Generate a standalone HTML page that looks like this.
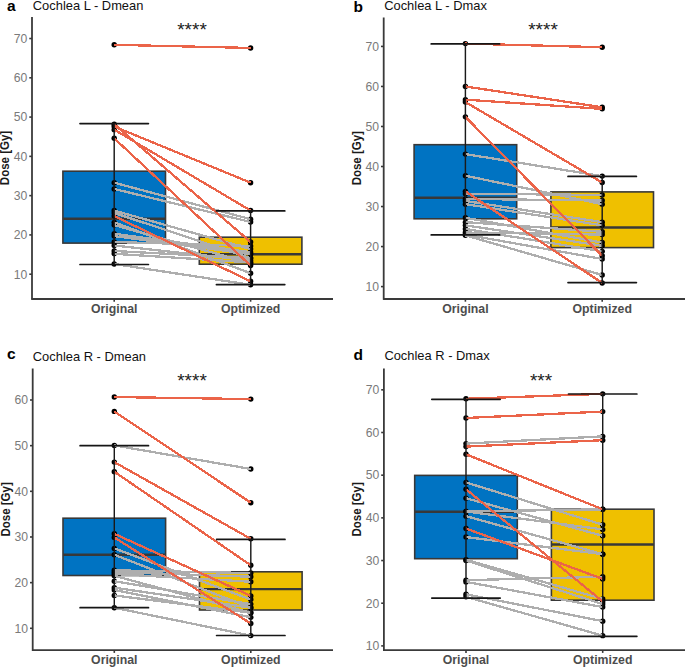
<!DOCTYPE html>
<html><head><meta charset="utf-8"><style>
html,body{margin:0;padding:0;background:#fff;}
body{width:685px;height:667px;overflow:hidden;}
svg{display:block;}
text{font-family:"Liberation Sans",sans-serif;}
.tk{font-size:12.2px;fill:#7A7A7A;}
.xl{font-size:12.3px;font-weight:bold;fill:#4D4D4D;}
.yl{font-size:11.5px;font-weight:bold;fill:#1a1a1a;}
.lt{font-size:15.5px;font-weight:bold;fill:#000;}
.tt{font-size:12.9px;fill:#111;}
.st{font-size:19px;fill:#222;}
</style></head><body>
<svg width="685" height="667" viewBox="0 0 685 667">
<rect width="685" height="667" fill="#fff"/>
<rect x="62.9" y="171.2" width="102.6" height="71.9" fill="#0073C2" stroke="#383838" stroke-width="1.6"/>
<line x1="62.9" x2="165.5" y1="218.8" y2="218.8" stroke="#383838" stroke-width="2.4"/>
<rect x="199.3" y="237.2" width="102.6" height="27" fill="#EFC000" stroke="#383838" stroke-width="1.6"/>
<line x1="199.3" x2="301.9" y1="254.3" y2="254.3" stroke="#383838" stroke-width="2.4"/>
<circle cx="114.2" cy="182.68" r="2.7" fill="#000"/>
<circle cx="250.6" cy="219.21" r="2.7" fill="#000"/>
<circle cx="114.2" cy="188.96" r="2.7" fill="#000"/>
<circle cx="250.6" cy="221.96" r="2.7" fill="#000"/>
<circle cx="114.2" cy="210.57" r="2.7" fill="#000"/>
<circle cx="250.6" cy="249.06" r="2.7" fill="#000"/>
<circle cx="114.2" cy="212.92" r="2.7" fill="#000"/>
<circle cx="250.6" cy="258.1" r="2.7" fill="#000"/>
<circle cx="114.2" cy="222.35" r="2.7" fill="#000"/>
<circle cx="250.6" cy="273.22" r="2.7" fill="#000"/>
<circle cx="114.2" cy="225.1" r="2.7" fill="#000"/>
<circle cx="250.6" cy="263.2" r="2.7" fill="#000"/>
<circle cx="114.2" cy="233.74" r="2.7" fill="#000"/>
<circle cx="250.6" cy="252.2" r="2.7" fill="#000"/>
<circle cx="114.2" cy="236.1" r="2.7" fill="#000"/>
<circle cx="250.6" cy="254.17" r="2.7" fill="#000"/>
<circle cx="114.2" cy="241.99" r="2.7" fill="#000"/>
<circle cx="250.6" cy="245.92" r="2.7" fill="#000"/>
<circle cx="114.2" cy="245.53" r="2.7" fill="#000"/>
<circle cx="250.6" cy="260.45" r="2.7" fill="#000"/>
<circle cx="114.2" cy="251.02" r="2.7" fill="#000"/>
<circle cx="250.6" cy="258.1" r="2.7" fill="#000"/>
<circle cx="114.2" cy="253.77" r="2.7" fill="#000"/>
<circle cx="250.6" cy="262.42" r="2.7" fill="#000"/>
<circle cx="114.2" cy="263.99" r="2.7" fill="#000"/>
<circle cx="250.6" cy="284.81" r="2.7" fill="#000"/>
<circle cx="114.2" cy="44.8" r="2.7" fill="#000"/>
<circle cx="250.6" cy="47.95" r="2.7" fill="#000"/>
<circle cx="114.2" cy="126.51" r="2.7" fill="#000"/>
<circle cx="250.6" cy="182.68" r="2.7" fill="#000"/>
<circle cx="114.2" cy="124.15" r="2.7" fill="#000"/>
<circle cx="250.6" cy="241.99" r="2.7" fill="#000"/>
<circle cx="114.2" cy="129.65" r="2.7" fill="#000"/>
<circle cx="250.6" cy="210.57" r="2.7" fill="#000"/>
<circle cx="114.2" cy="138.29" r="2.7" fill="#000"/>
<circle cx="250.6" cy="265.56" r="2.7" fill="#000"/>
<circle cx="114.2" cy="216.07" r="2.7" fill="#000"/>
<circle cx="250.6" cy="281.27" r="2.7" fill="#000"/>
<line x1="114.2" y1="182.68" x2="250.6" y2="219.21" stroke="#AEAEAE" stroke-width="2.3" shape-rendering="crispEdges"/>
<line x1="114.2" y1="188.96" x2="250.6" y2="221.96" stroke="#AEAEAE" stroke-width="2.3" shape-rendering="crispEdges"/>
<line x1="114.2" y1="210.57" x2="250.6" y2="249.06" stroke="#AEAEAE" stroke-width="2.3" shape-rendering="crispEdges"/>
<line x1="114.2" y1="212.92" x2="250.6" y2="258.1" stroke="#AEAEAE" stroke-width="2.3" shape-rendering="crispEdges"/>
<line x1="114.2" y1="222.35" x2="250.6" y2="273.22" stroke="#AEAEAE" stroke-width="2.3" shape-rendering="crispEdges"/>
<line x1="114.2" y1="225.1" x2="250.6" y2="263.2" stroke="#AEAEAE" stroke-width="2.3" shape-rendering="crispEdges"/>
<line x1="114.2" y1="233.74" x2="250.6" y2="252.2" stroke="#AEAEAE" stroke-width="2.3" shape-rendering="crispEdges"/>
<line x1="114.2" y1="236.1" x2="250.6" y2="254.17" stroke="#AEAEAE" stroke-width="2.3" shape-rendering="crispEdges"/>
<line x1="114.2" y1="241.99" x2="250.6" y2="245.92" stroke="#AEAEAE" stroke-width="2.3" shape-rendering="crispEdges"/>
<line x1="114.2" y1="245.53" x2="250.6" y2="260.45" stroke="#AEAEAE" stroke-width="2.3" shape-rendering="crispEdges"/>
<line x1="114.2" y1="251.02" x2="250.6" y2="258.1" stroke="#AEAEAE" stroke-width="2.3" shape-rendering="crispEdges"/>
<line x1="114.2" y1="253.77" x2="250.6" y2="262.42" stroke="#AEAEAE" stroke-width="2.3" shape-rendering="crispEdges"/>
<line x1="114.2" y1="263.99" x2="250.6" y2="284.81" stroke="#AEAEAE" stroke-width="2.3" shape-rendering="crispEdges"/>
<line x1="114.2" y1="44.8" x2="250.6" y2="47.95" stroke="#EB6449" stroke-width="2.3" shape-rendering="crispEdges"/>
<line x1="114.2" y1="126.51" x2="250.6" y2="182.68" stroke="#EB6449" stroke-width="2.3" shape-rendering="crispEdges"/>
<line x1="114.2" y1="124.15" x2="250.6" y2="241.99" stroke="#EB6449" stroke-width="2.3" shape-rendering="crispEdges"/>
<line x1="114.2" y1="129.65" x2="250.6" y2="210.57" stroke="#EB6449" stroke-width="2.3" shape-rendering="crispEdges"/>
<line x1="114.2" y1="138.29" x2="250.6" y2="265.56" stroke="#EB6449" stroke-width="2.3" shape-rendering="crispEdges"/>
<line x1="114.2" y1="216.07" x2="250.6" y2="281.27" stroke="#EB6449" stroke-width="2.3" shape-rendering="crispEdges"/>
<line x1="114.2" x2="114.2" y1="123.6" y2="264.5" stroke="#1a1a1a" stroke-width="1.45"/>
<line x1="80" x2="148.4" y1="123.6" y2="123.6" stroke="#161616" stroke-width="1.7" stroke-linecap="round"/>
<line x1="80" x2="148.4" y1="264.5" y2="264.5" stroke="#161616" stroke-width="1.7" stroke-linecap="round"/>
<line x1="250.6" x2="250.6" y1="210.9" y2="284.6" stroke="#1a1a1a" stroke-width="1.45"/>
<line x1="216.4" x2="284.8" y1="210.9" y2="210.9" stroke="#161616" stroke-width="1.7" stroke-linecap="round"/>
<line x1="216.4" x2="284.8" y1="284.6" y2="284.6" stroke="#161616" stroke-width="1.7" stroke-linecap="round"/>
<line x1="32" x2="32" y1="17" y2="299.8" stroke="#3a3a3a" stroke-width="1.8"/>
<line x1="31.5" x2="333" y1="299" y2="299" stroke="#3a3a3a" stroke-width="1.8"/>
<line x1="29.3" x2="32" y1="274.2" y2="274.2" stroke="#383838" stroke-width="1.6"/>
<text x="27.4" y="278.5" text-anchor="end" class="tk">10</text>
<line x1="29.3" x2="32" y1="234.92" y2="234.92" stroke="#383838" stroke-width="1.6"/>
<text x="27.4" y="239.22" text-anchor="end" class="tk">20</text>
<line x1="29.3" x2="32" y1="195.64" y2="195.64" stroke="#383838" stroke-width="1.6"/>
<text x="27.4" y="199.94" text-anchor="end" class="tk">30</text>
<line x1="29.3" x2="32" y1="156.36" y2="156.36" stroke="#383838" stroke-width="1.6"/>
<text x="27.4" y="160.66" text-anchor="end" class="tk">40</text>
<line x1="29.3" x2="32" y1="117.08" y2="117.08" stroke="#383838" stroke-width="1.6"/>
<text x="27.4" y="121.38" text-anchor="end" class="tk">50</text>
<line x1="29.3" x2="32" y1="77.8" y2="77.8" stroke="#383838" stroke-width="1.6"/>
<text x="27.4" y="82.1" text-anchor="end" class="tk">60</text>
<line x1="29.3" x2="32" y1="38.52" y2="38.52" stroke="#383838" stroke-width="1.6"/>
<text x="27.4" y="42.82" text-anchor="end" class="tk">70</text>
<line x1="114.2" x2="114.2" y1="299" y2="301.7" stroke="#383838" stroke-width="1.6"/>
<line x1="250.6" x2="250.6" y1="299" y2="301.7" stroke="#383838" stroke-width="1.6"/>
<text x="114.2" y="313.2" text-anchor="middle" class="xl">Original</text>
<text x="250.6" y="313.2" text-anchor="middle" class="xl">Optimized</text>
<text transform="translate(8.8,158) rotate(-90) scale(1,1.08)" text-anchor="middle" class="yl">Dose [Gy]</text>
<text x="7" y="10.8" class="lt">a</text>
<text x="32.8" y="9.5" class="tt">Cochlea L - Dmean</text>
<text x="192" y="36.1" text-anchor="middle" class="st">****</text>
<rect x="414.1" y="144.7" width="102.6" height="74.1" fill="#0073C2" stroke="#383838" stroke-width="1.6"/>
<line x1="414.1" x2="516.7" y1="197.7" y2="197.7" stroke="#383838" stroke-width="2.4"/>
<rect x="550.9" y="191.9" width="102.6" height="55.7" fill="#EFC000" stroke="#383838" stroke-width="1.6"/>
<line x1="550.9" x2="653.5" y1="227.5" y2="227.5" stroke="#383838" stroke-width="2.4"/>
<circle cx="465.4" cy="154.1" r="2.7" fill="#000"/>
<circle cx="602.2" cy="176.12" r="2.7" fill="#000"/>
<circle cx="465.4" cy="175.72" r="2.7" fill="#000"/>
<circle cx="602.2" cy="204.14" r="2.7" fill="#000"/>
<circle cx="465.4" cy="193.73" r="2.7" fill="#000"/>
<circle cx="602.2" cy="194.93" r="2.7" fill="#000"/>
<circle cx="465.4" cy="198.93" r="2.7" fill="#000"/>
<circle cx="602.2" cy="200.54" r="2.7" fill="#000"/>
<circle cx="465.4" cy="200.94" r="2.7" fill="#000"/>
<circle cx="602.2" cy="222.15" r="2.7" fill="#000"/>
<circle cx="465.4" cy="204.14" r="2.7" fill="#000"/>
<circle cx="602.2" cy="225.35" r="2.7" fill="#000"/>
<circle cx="465.4" cy="217.75" r="2.7" fill="#000"/>
<circle cx="602.2" cy="242.57" r="2.7" fill="#000"/>
<circle cx="465.4" cy="222.15" r="2.7" fill="#000"/>
<circle cx="602.2" cy="231.76" r="2.7" fill="#000"/>
<circle cx="465.4" cy="225.35" r="2.7" fill="#000"/>
<circle cx="602.2" cy="245.77" r="2.7" fill="#000"/>
<circle cx="465.4" cy="228.96" r="2.7" fill="#000"/>
<circle cx="602.2" cy="251.37" r="2.7" fill="#000"/>
<circle cx="465.4" cy="234.56" r="2.7" fill="#000"/>
<circle cx="602.2" cy="258.98" r="2.7" fill="#000"/>
<circle cx="465.4" cy="232.56" r="2.7" fill="#000"/>
<circle cx="602.2" cy="234.56" r="2.7" fill="#000"/>
<circle cx="465.4" cy="235.36" r="2.7" fill="#000"/>
<circle cx="602.2" cy="274.99" r="2.7" fill="#000"/>
<circle cx="465.4" cy="43.62" r="2.7" fill="#000"/>
<circle cx="602.2" cy="47.22" r="2.7" fill="#000"/>
<circle cx="465.4" cy="86.45" r="2.7" fill="#000"/>
<circle cx="602.2" cy="107.27" r="2.7" fill="#000"/>
<circle cx="465.4" cy="99.66" r="2.7" fill="#000"/>
<circle cx="602.2" cy="108.87" r="2.7" fill="#000"/>
<circle cx="465.4" cy="102.06" r="2.7" fill="#000"/>
<circle cx="602.2" cy="182.52" r="2.7" fill="#000"/>
<circle cx="465.4" cy="116.87" r="2.7" fill="#000"/>
<circle cx="602.2" cy="255.78" r="2.7" fill="#000"/>
<circle cx="465.4" cy="191.33" r="2.7" fill="#000"/>
<circle cx="602.2" cy="283" r="2.7" fill="#000"/>
<line x1="465.4" y1="154.1" x2="602.2" y2="176.12" stroke="#AEAEAE" stroke-width="2.3" shape-rendering="crispEdges"/>
<line x1="465.4" y1="175.72" x2="602.2" y2="204.14" stroke="#AEAEAE" stroke-width="2.3" shape-rendering="crispEdges"/>
<line x1="465.4" y1="193.73" x2="602.2" y2="194.93" stroke="#AEAEAE" stroke-width="2.3" shape-rendering="crispEdges"/>
<line x1="465.4" y1="198.93" x2="602.2" y2="200.54" stroke="#AEAEAE" stroke-width="2.3" shape-rendering="crispEdges"/>
<line x1="465.4" y1="200.94" x2="602.2" y2="222.15" stroke="#AEAEAE" stroke-width="2.3" shape-rendering="crispEdges"/>
<line x1="465.4" y1="204.14" x2="602.2" y2="225.35" stroke="#AEAEAE" stroke-width="2.3" shape-rendering="crispEdges"/>
<line x1="465.4" y1="217.75" x2="602.2" y2="242.57" stroke="#AEAEAE" stroke-width="2.3" shape-rendering="crispEdges"/>
<line x1="465.4" y1="222.15" x2="602.2" y2="231.76" stroke="#AEAEAE" stroke-width="2.3" shape-rendering="crispEdges"/>
<line x1="465.4" y1="225.35" x2="602.2" y2="245.77" stroke="#AEAEAE" stroke-width="2.3" shape-rendering="crispEdges"/>
<line x1="465.4" y1="228.96" x2="602.2" y2="251.37" stroke="#AEAEAE" stroke-width="2.3" shape-rendering="crispEdges"/>
<line x1="465.4" y1="234.56" x2="602.2" y2="258.98" stroke="#AEAEAE" stroke-width="2.3" shape-rendering="crispEdges"/>
<line x1="465.4" y1="232.56" x2="602.2" y2="234.56" stroke="#AEAEAE" stroke-width="2.3" shape-rendering="crispEdges"/>
<line x1="465.4" y1="235.36" x2="602.2" y2="274.99" stroke="#AEAEAE" stroke-width="2.3" shape-rendering="crispEdges"/>
<line x1="465.4" y1="43.62" x2="602.2" y2="47.22" stroke="#EB6449" stroke-width="2.3" shape-rendering="crispEdges"/>
<line x1="465.4" y1="86.45" x2="602.2" y2="107.27" stroke="#EB6449" stroke-width="2.3" shape-rendering="crispEdges"/>
<line x1="465.4" y1="99.66" x2="602.2" y2="108.87" stroke="#EB6449" stroke-width="2.3" shape-rendering="crispEdges"/>
<line x1="465.4" y1="102.06" x2="602.2" y2="182.52" stroke="#EB6449" stroke-width="2.3" shape-rendering="crispEdges"/>
<line x1="465.4" y1="116.87" x2="602.2" y2="255.78" stroke="#EB6449" stroke-width="2.3" shape-rendering="crispEdges"/>
<line x1="465.4" y1="191.33" x2="602.2" y2="283" stroke="#EB6449" stroke-width="2.3" shape-rendering="crispEdges"/>
<line x1="465.4" x2="465.4" y1="43.9" y2="234.9" stroke="#1a1a1a" stroke-width="1.45"/>
<line x1="431.2" x2="499.6" y1="43.9" y2="43.9" stroke="#161616" stroke-width="1.7" stroke-linecap="round"/>
<line x1="431.2" x2="499.6" y1="234.9" y2="234.9" stroke="#161616" stroke-width="1.7" stroke-linecap="round"/>
<line x1="602.2" x2="602.2" y1="176.4" y2="282.6" stroke="#1a1a1a" stroke-width="1.45"/>
<line x1="568" x2="636.4" y1="176.4" y2="176.4" stroke="#161616" stroke-width="1.7" stroke-linecap="round"/>
<line x1="568" x2="636.4" y1="282.6" y2="282.6" stroke="#161616" stroke-width="1.7" stroke-linecap="round"/>
<line x1="383.7" x2="383.7" y1="17.4" y2="299.8" stroke="#3a3a3a" stroke-width="1.8"/>
<line x1="383.2" x2="685" y1="299" y2="299" stroke="#3a3a3a" stroke-width="1.8"/>
<line x1="381" x2="383.7" y1="286.6" y2="286.6" stroke="#383838" stroke-width="1.6"/>
<text x="379.1" y="290.9" text-anchor="end" class="tk">10</text>
<line x1="381" x2="383.7" y1="246.57" y2="246.57" stroke="#383838" stroke-width="1.6"/>
<text x="379.1" y="250.87" text-anchor="end" class="tk">20</text>
<line x1="381" x2="383.7" y1="206.54" y2="206.54" stroke="#383838" stroke-width="1.6"/>
<text x="379.1" y="210.84" text-anchor="end" class="tk">30</text>
<line x1="381" x2="383.7" y1="166.51" y2="166.51" stroke="#383838" stroke-width="1.6"/>
<text x="379.1" y="170.81" text-anchor="end" class="tk">40</text>
<line x1="381" x2="383.7" y1="126.48" y2="126.48" stroke="#383838" stroke-width="1.6"/>
<text x="379.1" y="130.78" text-anchor="end" class="tk">50</text>
<line x1="381" x2="383.7" y1="86.45" y2="86.45" stroke="#383838" stroke-width="1.6"/>
<text x="379.1" y="90.75" text-anchor="end" class="tk">60</text>
<line x1="381" x2="383.7" y1="46.42" y2="46.42" stroke="#383838" stroke-width="1.6"/>
<text x="379.1" y="50.72" text-anchor="end" class="tk">70</text>
<line x1="465.4" x2="465.4" y1="299" y2="301.7" stroke="#383838" stroke-width="1.6"/>
<line x1="602.2" x2="602.2" y1="299" y2="301.7" stroke="#383838" stroke-width="1.6"/>
<text x="465.4" y="313.2" text-anchor="middle" class="xl">Original</text>
<text x="602.2" y="313.2" text-anchor="middle" class="xl">Optimized</text>
<text transform="translate(360.5,158.2) rotate(-90) scale(1,1.08)" text-anchor="middle" class="yl">Dose [Gy]</text>
<text x="353.6" y="11.6" class="lt">b</text>
<text x="384.2" y="9.5" class="tt">Cochlea L - Dmax</text>
<text x="543" y="36.1" text-anchor="middle" class="st">****</text>
<rect x="63" y="518.2" width="102.6" height="57.3" fill="#0073C2" stroke="#383838" stroke-width="1.6"/>
<line x1="63" x2="165.6" y1="554.8" y2="554.8" stroke="#383838" stroke-width="2.4"/>
<rect x="199.5" y="571.8" width="102.6" height="38.2" fill="#EFC000" stroke="#383838" stroke-width="1.6"/>
<line x1="199.5" x2="302.1" y1="589.1" y2="589.1" stroke="#383838" stroke-width="2.4"/>
<circle cx="114.3" cy="445.39" r="2.7" fill="#000"/>
<circle cx="250.8" cy="468.95" r="2.7" fill="#000"/>
<circle cx="114.3" cy="548.39" r="2.7" fill="#000"/>
<circle cx="250.8" cy="599.53" r="2.7" fill="#000"/>
<circle cx="114.3" cy="554.79" r="2.7" fill="#000"/>
<circle cx="250.8" cy="607.75" r="2.7" fill="#000"/>
<circle cx="114.3" cy="570.31" r="2.7" fill="#000"/>
<circle cx="250.8" cy="573.05" r="2.7" fill="#000"/>
<circle cx="114.3" cy="572.14" r="2.7" fill="#000"/>
<circle cx="250.8" cy="576.7" r="2.7" fill="#000"/>
<circle cx="114.3" cy="573.96" r="2.7" fill="#000"/>
<circle cx="250.8" cy="581.73" r="2.7" fill="#000"/>
<circle cx="114.3" cy="575.79" r="2.7" fill="#000"/>
<circle cx="250.8" cy="612.78" r="2.7" fill="#000"/>
<circle cx="114.3" cy="581.27" r="2.7" fill="#000"/>
<circle cx="250.8" cy="604.1" r="2.7" fill="#000"/>
<circle cx="114.3" cy="587.66" r="2.7" fill="#000"/>
<circle cx="250.8" cy="607.75" r="2.7" fill="#000"/>
<circle cx="114.3" cy="589.95" r="2.7" fill="#000"/>
<circle cx="250.8" cy="617.34" r="2.7" fill="#000"/>
<circle cx="114.3" cy="595.42" r="2.7" fill="#000"/>
<circle cx="250.8" cy="612.78" r="2.7" fill="#000"/>
<circle cx="114.3" cy="607.75" r="2.7" fill="#000"/>
<circle cx="250.8" cy="635.61" r="2.7" fill="#000"/>
<circle cx="114.3" cy="397.03" r="2.7" fill="#000"/>
<circle cx="250.8" cy="399.09" r="2.7" fill="#000"/>
<circle cx="114.3" cy="411.41" r="2.7" fill="#000"/>
<circle cx="250.8" cy="502.73" r="2.7" fill="#000"/>
<circle cx="114.3" cy="462.1" r="2.7" fill="#000"/>
<circle cx="250.8" cy="538.81" r="2.7" fill="#000"/>
<circle cx="114.3" cy="471.69" r="2.7" fill="#000"/>
<circle cx="250.8" cy="565.29" r="2.7" fill="#000"/>
<circle cx="114.3" cy="533.78" r="2.7" fill="#000"/>
<circle cx="250.8" cy="595.88" r="2.7" fill="#000"/>
<circle cx="114.3" cy="537.44" r="2.7" fill="#000"/>
<circle cx="250.8" cy="623.51" r="2.7" fill="#000"/>
<line x1="114.3" y1="445.39" x2="250.8" y2="468.95" stroke="#AEAEAE" stroke-width="2.3" shape-rendering="crispEdges"/>
<line x1="114.3" y1="548.39" x2="250.8" y2="599.53" stroke="#AEAEAE" stroke-width="2.3" shape-rendering="crispEdges"/>
<line x1="114.3" y1="554.79" x2="250.8" y2="607.75" stroke="#AEAEAE" stroke-width="2.3" shape-rendering="crispEdges"/>
<line x1="114.3" y1="570.31" x2="250.8" y2="573.05" stroke="#AEAEAE" stroke-width="2.3" shape-rendering="crispEdges"/>
<line x1="114.3" y1="572.14" x2="250.8" y2="576.7" stroke="#AEAEAE" stroke-width="2.3" shape-rendering="crispEdges"/>
<line x1="114.3" y1="573.96" x2="250.8" y2="581.73" stroke="#AEAEAE" stroke-width="2.3" shape-rendering="crispEdges"/>
<line x1="114.3" y1="575.79" x2="250.8" y2="612.78" stroke="#AEAEAE" stroke-width="2.3" shape-rendering="crispEdges"/>
<line x1="114.3" y1="581.27" x2="250.8" y2="604.1" stroke="#AEAEAE" stroke-width="2.3" shape-rendering="crispEdges"/>
<line x1="114.3" y1="587.66" x2="250.8" y2="607.75" stroke="#AEAEAE" stroke-width="2.3" shape-rendering="crispEdges"/>
<line x1="114.3" y1="589.95" x2="250.8" y2="617.34" stroke="#AEAEAE" stroke-width="2.3" shape-rendering="crispEdges"/>
<line x1="114.3" y1="595.42" x2="250.8" y2="612.78" stroke="#AEAEAE" stroke-width="2.3" shape-rendering="crispEdges"/>
<line x1="114.3" y1="607.75" x2="250.8" y2="635.61" stroke="#AEAEAE" stroke-width="2.3" shape-rendering="crispEdges"/>
<line x1="114.3" y1="397.03" x2="250.8" y2="399.09" stroke="#EB6449" stroke-width="2.3" shape-rendering="crispEdges"/>
<line x1="114.3" y1="411.41" x2="250.8" y2="502.73" stroke="#EB6449" stroke-width="2.3" shape-rendering="crispEdges"/>
<line x1="114.3" y1="462.1" x2="250.8" y2="538.81" stroke="#EB6449" stroke-width="2.3" shape-rendering="crispEdges"/>
<line x1="114.3" y1="471.69" x2="250.8" y2="565.29" stroke="#EB6449" stroke-width="2.3" shape-rendering="crispEdges"/>
<line x1="114.3" y1="533.78" x2="250.8" y2="595.88" stroke="#EB6449" stroke-width="2.3" shape-rendering="crispEdges"/>
<line x1="114.3" y1="537.44" x2="250.8" y2="623.51" stroke="#EB6449" stroke-width="2.3" shape-rendering="crispEdges"/>
<line x1="114.3" x2="114.3" y1="445.7" y2="607.7" stroke="#1a1a1a" stroke-width="1.45"/>
<line x1="80.1" x2="148.5" y1="445.7" y2="445.7" stroke="#161616" stroke-width="1.7" stroke-linecap="round"/>
<line x1="80.1" x2="148.5" y1="607.7" y2="607.7" stroke="#161616" stroke-width="1.7" stroke-linecap="round"/>
<line x1="250.8" x2="250.8" y1="539.4" y2="635.5" stroke="#1a1a1a" stroke-width="1.45"/>
<line x1="216.6" x2="285" y1="539.4" y2="539.4" stroke="#161616" stroke-width="1.7" stroke-linecap="round"/>
<line x1="216.6" x2="285" y1="635.5" y2="635.5" stroke="#161616" stroke-width="1.7" stroke-linecap="round"/>
<line x1="32.7" x2="32.7" y1="368.5" y2="651" stroke="#3a3a3a" stroke-width="1.8"/>
<line x1="32.2" x2="333" y1="650.2" y2="650.2" stroke="#3a3a3a" stroke-width="1.8"/>
<line x1="30" x2="32.7" y1="628.3" y2="628.3" stroke="#383838" stroke-width="1.6"/>
<text x="28.1" y="632.6" text-anchor="end" class="tk">10</text>
<line x1="30" x2="32.7" y1="582.64" y2="582.64" stroke="#383838" stroke-width="1.6"/>
<text x="28.1" y="586.94" text-anchor="end" class="tk">20</text>
<line x1="30" x2="32.7" y1="536.98" y2="536.98" stroke="#383838" stroke-width="1.6"/>
<text x="28.1" y="541.28" text-anchor="end" class="tk">30</text>
<line x1="30" x2="32.7" y1="491.32" y2="491.32" stroke="#383838" stroke-width="1.6"/>
<text x="28.1" y="495.62" text-anchor="end" class="tk">40</text>
<line x1="30" x2="32.7" y1="445.66" y2="445.66" stroke="#383838" stroke-width="1.6"/>
<text x="28.1" y="449.96" text-anchor="end" class="tk">50</text>
<line x1="30" x2="32.7" y1="400" y2="400" stroke="#383838" stroke-width="1.6"/>
<text x="28.1" y="404.3" text-anchor="end" class="tk">60</text>
<line x1="114.3" x2="114.3" y1="650.2" y2="652.9" stroke="#383838" stroke-width="1.6"/>
<line x1="250.8" x2="250.8" y1="650.2" y2="652.9" stroke="#383838" stroke-width="1.6"/>
<text x="114.3" y="664.4" text-anchor="middle" class="xl">Original</text>
<text x="250.8" y="664.4" text-anchor="middle" class="xl">Optimized</text>
<text transform="translate(9.5,509.35) rotate(-90) scale(1,1.08)" text-anchor="middle" class="yl">Dose [Gy]</text>
<text x="7" y="359.2" class="lt">c</text>
<text x="32.8" y="360.5" class="tt">Cochlea R - Dmean</text>
<text x="192" y="387.2" text-anchor="middle" class="st">****</text>
<rect x="414.7" y="475.4" width="102.6" height="83.3" fill="#0073C2" stroke="#383838" stroke-width="1.6"/>
<line x1="414.7" x2="517.3" y1="511.8" y2="511.8" stroke="#383838" stroke-width="2.4"/>
<rect x="551.4" y="509.2" width="102.6" height="91" fill="#EFC000" stroke="#383838" stroke-width="1.6"/>
<line x1="551.4" x2="654" y1="544.5" y2="544.5" stroke="#383838" stroke-width="2.4"/>
<circle cx="466" cy="443.6" r="2.7" fill="#000"/>
<circle cx="602.7" cy="436.34" r="2.7" fill="#000"/>
<circle cx="466" cy="482.44" r="2.7" fill="#000"/>
<circle cx="602.7" cy="524.69" r="2.7" fill="#000"/>
<circle cx="466" cy="498.23" r="2.7" fill="#000"/>
<circle cx="602.7" cy="535.79" r="2.7" fill="#000"/>
<circle cx="466" cy="511.46" r="2.7" fill="#000"/>
<circle cx="602.7" cy="509.32" r="2.7" fill="#000"/>
<circle cx="466" cy="511.46" r="2.7" fill="#000"/>
<circle cx="602.7" cy="529.38" r="2.7" fill="#000"/>
<circle cx="466" cy="516.15" r="2.7" fill="#000"/>
<circle cx="602.7" cy="554.14" r="2.7" fill="#000"/>
<circle cx="466" cy="537.07" r="2.7" fill="#000"/>
<circle cx="602.7" cy="554.14" r="2.7" fill="#000"/>
<circle cx="466" cy="559.69" r="2.7" fill="#000"/>
<circle cx="602.7" cy="598.95" r="2.7" fill="#000"/>
<circle cx="466" cy="560.54" r="2.7" fill="#000"/>
<circle cx="602.7" cy="604.07" r="2.7" fill="#000"/>
<circle cx="466" cy="580.17" r="2.7" fill="#000"/>
<circle cx="602.7" cy="576.76" r="2.7" fill="#000"/>
<circle cx="466" cy="581.88" r="2.7" fill="#000"/>
<circle cx="602.7" cy="607.06" r="2.7" fill="#000"/>
<circle cx="466" cy="594.26" r="2.7" fill="#000"/>
<circle cx="602.7" cy="621.15" r="2.7" fill="#000"/>
<circle cx="466" cy="596.82" r="2.7" fill="#000"/>
<circle cx="602.7" cy="635.66" r="2.7" fill="#000"/>
<circle cx="466" cy="398.78" r="2.7" fill="#000"/>
<circle cx="602.7" cy="393.87" r="2.7" fill="#000"/>
<circle cx="466" cy="417.99" r="2.7" fill="#000"/>
<circle cx="602.7" cy="411.59" r="2.7" fill="#000"/>
<circle cx="466" cy="446.58" r="2.7" fill="#000"/>
<circle cx="602.7" cy="440.18" r="2.7" fill="#000"/>
<circle cx="466" cy="454.27" r="2.7" fill="#000"/>
<circle cx="602.7" cy="509.32" r="2.7" fill="#000"/>
<circle cx="466" cy="489.26" r="2.7" fill="#000"/>
<circle cx="602.7" cy="601.51" r="2.7" fill="#000"/>
<circle cx="466" cy="528.53" r="2.7" fill="#000"/>
<circle cx="602.7" cy="578.89" r="2.7" fill="#000"/>
<line x1="466" y1="443.6" x2="602.7" y2="436.34" stroke="#AEAEAE" stroke-width="2.3" shape-rendering="crispEdges"/>
<line x1="466" y1="482.44" x2="602.7" y2="524.69" stroke="#AEAEAE" stroke-width="2.3" shape-rendering="crispEdges"/>
<line x1="466" y1="498.23" x2="602.7" y2="535.79" stroke="#AEAEAE" stroke-width="2.3" shape-rendering="crispEdges"/>
<line x1="466" y1="511.46" x2="602.7" y2="509.32" stroke="#AEAEAE" stroke-width="2.3" shape-rendering="crispEdges"/>
<line x1="466" y1="511.46" x2="602.7" y2="529.38" stroke="#AEAEAE" stroke-width="2.3" shape-rendering="crispEdges"/>
<line x1="466" y1="516.15" x2="602.7" y2="554.14" stroke="#AEAEAE" stroke-width="2.3" shape-rendering="crispEdges"/>
<line x1="466" y1="537.07" x2="602.7" y2="554.14" stroke="#AEAEAE" stroke-width="2.3" shape-rendering="crispEdges"/>
<line x1="466" y1="559.69" x2="602.7" y2="598.95" stroke="#AEAEAE" stroke-width="2.3" shape-rendering="crispEdges"/>
<line x1="466" y1="560.54" x2="602.7" y2="604.07" stroke="#AEAEAE" stroke-width="2.3" shape-rendering="crispEdges"/>
<line x1="466" y1="580.17" x2="602.7" y2="576.76" stroke="#AEAEAE" stroke-width="2.3" shape-rendering="crispEdges"/>
<line x1="466" y1="581.88" x2="602.7" y2="607.06" stroke="#AEAEAE" stroke-width="2.3" shape-rendering="crispEdges"/>
<line x1="466" y1="594.26" x2="602.7" y2="621.15" stroke="#AEAEAE" stroke-width="2.3" shape-rendering="crispEdges"/>
<line x1="466" y1="596.82" x2="602.7" y2="635.66" stroke="#AEAEAE" stroke-width="2.3" shape-rendering="crispEdges"/>
<line x1="466" y1="398.78" x2="602.7" y2="393.87" stroke="#EB6449" stroke-width="2.3" shape-rendering="crispEdges"/>
<line x1="466" y1="417.99" x2="602.7" y2="411.59" stroke="#EB6449" stroke-width="2.3" shape-rendering="crispEdges"/>
<line x1="466" y1="446.58" x2="602.7" y2="440.18" stroke="#EB6449" stroke-width="2.3" shape-rendering="crispEdges"/>
<line x1="466" y1="454.27" x2="602.7" y2="509.32" stroke="#EB6449" stroke-width="2.3" shape-rendering="crispEdges"/>
<line x1="466" y1="489.26" x2="602.7" y2="601.51" stroke="#EB6449" stroke-width="2.3" shape-rendering="crispEdges"/>
<line x1="466" y1="528.53" x2="602.7" y2="578.89" stroke="#EB6449" stroke-width="2.3" shape-rendering="crispEdges"/>
<line x1="466" x2="466" y1="399.3" y2="598.1" stroke="#1a1a1a" stroke-width="1.45"/>
<line x1="431.8" x2="500.2" y1="399.3" y2="399.3" stroke="#161616" stroke-width="1.7" stroke-linecap="round"/>
<line x1="431.8" x2="500.2" y1="598.1" y2="598.1" stroke="#161616" stroke-width="1.7" stroke-linecap="round"/>
<line x1="602.7" x2="602.7" y1="394" y2="636.3" stroke="#1a1a1a" stroke-width="1.45"/>
<line x1="568.5" x2="636.9" y1="394" y2="394" stroke="#161616" stroke-width="1.7" stroke-linecap="round"/>
<line x1="568.5" x2="636.9" y1="636.3" y2="636.3" stroke="#161616" stroke-width="1.7" stroke-linecap="round"/>
<line x1="383.9" x2="383.9" y1="368.5" y2="651" stroke="#3a3a3a" stroke-width="1.8"/>
<line x1="383.4" x2="685" y1="650.2" y2="650.2" stroke="#3a3a3a" stroke-width="1.8"/>
<line x1="381.2" x2="383.9" y1="645.9" y2="645.9" stroke="#383838" stroke-width="1.6"/>
<text x="379.3" y="650.2" text-anchor="end" class="tk">10</text>
<line x1="381.2" x2="383.9" y1="603.22" y2="603.22" stroke="#383838" stroke-width="1.6"/>
<text x="379.3" y="607.52" text-anchor="end" class="tk">20</text>
<line x1="381.2" x2="383.9" y1="560.54" y2="560.54" stroke="#383838" stroke-width="1.6"/>
<text x="379.3" y="564.84" text-anchor="end" class="tk">30</text>
<line x1="381.2" x2="383.9" y1="517.86" y2="517.86" stroke="#383838" stroke-width="1.6"/>
<text x="379.3" y="522.16" text-anchor="end" class="tk">40</text>
<line x1="381.2" x2="383.9" y1="475.18" y2="475.18" stroke="#383838" stroke-width="1.6"/>
<text x="379.3" y="479.48" text-anchor="end" class="tk">50</text>
<line x1="381.2" x2="383.9" y1="432.5" y2="432.5" stroke="#383838" stroke-width="1.6"/>
<text x="379.3" y="436.8" text-anchor="end" class="tk">60</text>
<line x1="381.2" x2="383.9" y1="389.82" y2="389.82" stroke="#383838" stroke-width="1.6"/>
<text x="379.3" y="394.12" text-anchor="end" class="tk">70</text>
<line x1="466" x2="466" y1="650.2" y2="652.9" stroke="#383838" stroke-width="1.6"/>
<line x1="602.7" x2="602.7" y1="650.2" y2="652.9" stroke="#383838" stroke-width="1.6"/>
<text x="466" y="664.4" text-anchor="middle" class="xl">Original</text>
<text x="602.7" y="664.4" text-anchor="middle" class="xl">Optimized</text>
<text transform="translate(360.7,509.35) rotate(-90) scale(1,1.08)" text-anchor="middle" class="yl">Dose [Gy]</text>
<text x="353.6" y="360.4" class="lt">d</text>
<text x="384.4" y="360" class="tt">Cochlea R - Dmax</text>
<text x="541" y="387.3" text-anchor="middle" class="st">***</text>
</svg></body></html>
